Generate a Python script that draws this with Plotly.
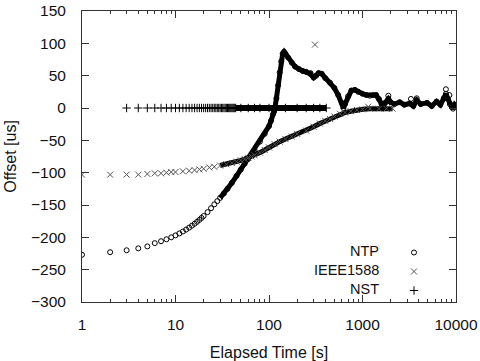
import plotly.graph_objects as go

# ---- data ----
NTP_T = [1, 2, 3, 4, 5, 6, 7, 8, 9, 10, 11, 12, 13, 14, 15, 16, 17, 18, 19, 20,
         22, 24, 26, 28, 30, 33, 36, 40, 45, 50, 55, 60, 65, 70, 80, 90, 100, 105,
         110, 115, 120, 125, 130, 135, 140, 145, 150, 160, 175, 190, 210, 230, 250,
         275, 300, 320, 340, 366, 400, 450, 500, 550, 600, 625, 650, 700, 760, 830,
         900, 1000, 1100, 1200, 1300, 1400, 1500, 1600, 1660, 1750, 1890, 2000,
         2200, 2500, 2800, 3200, 3500, 3800, 4200, 4900, 5500, 6200, 6800, 7400,
         7800, 8200, 8600, 9000, 9300, 9700, 10000]
NTP_V = [-227, -223, -220, -217, -214, -209, -206, -203, -200, -197, -194, -191,
         -188, -185, -182, -179, -176, -173, -170, -167, -161, -155, -149, -144,
         -139, -132, -125, -116, -105, -95, -86, -79, -72, -65, -52, -40, -28, -20,
         -10, -2, 15, 35, 55, 72, 84, 87, 84, 78, 70, 64, 60, 57, 56, 53, 47, 50,
         54, 53, 46, 39, 31, 20, 8, 0, 6, 18, 27, 28, 25, 22, 20, 19, 20, 20, 14,
         6, 3, 8, 14, 9, 6, 9, 5, 7, 3, 12, 6, 8, 3, 10, 5, 15, 22, 14, 6, 2, -1,
         5, 3]
NTP_OUT_T = [113, 278, 1890, 3300, 3800, 7800, 8500]
NTP_OUT_V = [-6, 54, 19, 14, 15, 29, 20]

IEEE_T = [1, 2, 3, 4, 5, 6, 7, 8, 9, 10, 12, 14, 16, 18, 20, 23, 26, 30, 35, 40,
          45, 50, 55, 60, 65, 70, 80, 90, 100, 115, 130, 150, 175, 200, 250, 300,
          350, 400, 450, 500, 575, 650, 750, 870, 1000, 1200, 1500, 1800, 2100]
IEEE_V = [-103, -103, -103, -103, -102, -101, -101, -100, -99, -99, -98, -97,
          -96, -95, -94, -92, -91, -89, -87, -85, -83, -81, -79, -77, -75, -73,
          -69, -65, -61, -56, -52, -48, -44, -40, -35, -29, -24, -20, -17, -13,
          -9, -7, -5, -3, -2, -1, -1, -1, -1]
IEEE_OUT_T = [310, 1150]
IEEE_OUT_V = [98, 2]

NST_T = [3, 4, 5, 6, 7, 8, 9, 10, 11, 12, 13, 14, 15, 16, 17, 18, 19, 20, 21, 22,
         23, 24, 25, 26, 27, 28, 29, 30, 31, 32, 33, 34, 35, 36, 37, 38, 39, 40,
         41, 42, 43, 44, 50, 60, 70, 80, 100, 120, 150, 200, 250, 300, 350, 410]
NST_V = [0] * len(NST_T)

LEGEND_LABELS = ["NTP", "IEEE1588", "NST"]
Y_TICKS = [150, 100, 50, 0, -50, -100, -150, -200, -250, -300]
X_TICKS = [1, 10, 100, 1000, 10000]
X_MINOR = [m * 10 ** e for e in range(4) for m in range(2, 10)]

FONT = "Liberation Sans, Arial, Helvetica, sans-serif"
INK = "#000000"
AX = "#333333"


def dense(ts, vs, tmin):
    pairs = [(t, v) for t, v in zip(ts, vs) if t >= tmin]
    return [p[0] for p in pairs], [p[1] for p in pairs]


fig = go.Figure()

# dense bands (overlapping markers in the original)
for ts, vs, tmin, w in [(IEEE_T, IEEE_V, 30, 5), (NST_T, NST_V, 44, 6), (NTP_T, NTP_V, 30, 5)]:
    dx, dy = dense(ts, vs, tmin)
    fig.add_trace(go.Scatter(x=dx, y=dy, mode="lines", line=dict(color=INK, width=w),
                             showlegend=False, hoverinfo="skip"))

# marker series (legend entries)
fig.add_trace(go.Scatter(x=NTP_T + NTP_OUT_T, y=NTP_V + NTP_OUT_V, mode="markers", name=" ",
                         marker=dict(symbol="circle-open", size=5, color=INK, line=dict(width=1))))
fig.add_trace(go.Scatter(x=IEEE_T + IEEE_OUT_T, y=IEEE_V + IEEE_OUT_V, mode="markers", name="  ",
                         marker=dict(symbol="x-thin-open", size=6, color="#555555",
                                     line=dict(width=1, color="#555555"))))
fig.add_trace(go.Scatter(x=NST_T, y=NST_V, mode="markers", name="   ",
                         marker=dict(symbol="cross-thin-open", size=6, color=INK,
                                     line=dict(width=1, color=INK))))

L, R, T, B = 82, 456, 11, 302
W, H = 480, 361


def px2paper_x(px):
    return (px - L) / (R - L)


def px2paper_y(py):
    return (B - py) / (B - T)


for lab, py in zip(LEGEND_LABELS, [251, 270, 289]):
    fig.add_annotation(text=lab, xref="paper", yref="paper", x=px2paper_x(381), y=px2paper_y(py),
                       xanchor="right", yanchor="middle", showarrow=False,
                       font=dict(family=FONT, size=14.5, color="#111111"))

axis_common = dict(showline=True, linecolor=AX, linewidth=1, mirror="ticks",
                   ticks="inside", tickcolor=AX, showgrid=False, zeroline=False,
                   automargin=False,
                   tickfont=dict(family=FONT, size=15.5, color="#111111"),
                   title_font=dict(family=FONT, size=16, color="#111111"))

fig.update_xaxes(type="log", range=[0, 4], tickvals=X_TICKS, ticktext=[str(v) for v in X_TICKS],
                 ticklen=7, ticklabelstandoff=8,
                 minor=dict(ticks="inside", ticklen=3, tickcolor=AX, tickvals=X_MINOR, showgrid=False),
                 title_text="Elapsed Time [s]", title_standoff=18, **axis_common)
fig.update_yaxes(range=[-300, 150], tickvals=Y_TICKS, ticklen=7, ticklabelstandoff=12,
                 title_text="Offset [us]", title_standoff=10, **axis_common)

fig.update_layout(
    width=W, height=H,
    margin=dict(l=L, r=W - R, t=T, b=H - B),
    paper_bgcolor="white", plot_bgcolor="white",
    font=dict(family=FONT),
    legend=dict(x=px2paper_x(394), y=px2paper_y(238), xanchor="left", yanchor="top",
                bgcolor="rgba(0,0,0,0)", font=dict(family=FONT, size=12),
                tracegroupgap=0, itemwidth=30),
)

fig.write_html("out.html")
